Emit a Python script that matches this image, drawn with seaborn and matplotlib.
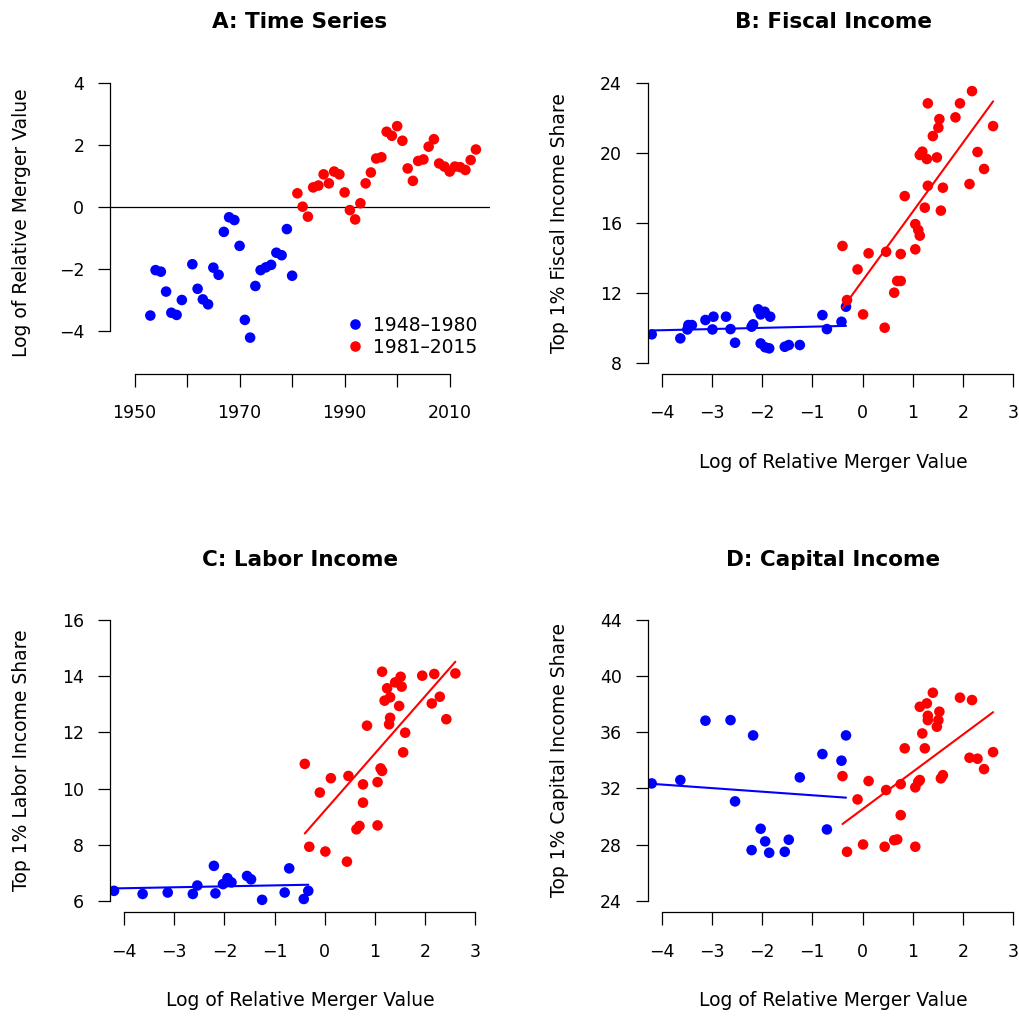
import numpy as np
import pandas as pd
import matplotlib
matplotlib.use("Agg")
import matplotlib.pyplot as plt
from matplotlib.lines import Line2D
import seaborn as sns

# values (no 1960; labor/capital start in 1962, stop in 2014)
years = [1953, 1954, 1955, 1956, 1957, 1958, 1959, 1961, 1962, 1963,
         1964, 1965, 1966, 1967, 1968, 1969, 1970, 1971, 1972, 1973,
         1974, 1975, 1976, 1977, 1978, 1979, 1980, 1981, 1982, 1983,
         1984, 1985, 1986, 1987, 1988, 1989, 1990, 1991, 1992, 1993,
         1994, 1995, 1996, 1997, 1998, 1999, 2000, 2001, 2002, 2003,
         2004, 2005, 2006, 2007, 2008, 2009, 2010, 2011, 2012, 2013,
         2014, 2015]

log_merger = [-3.49, -2.03, -2.08, -2.72, -3.40, -3.47, -2.99, -1.84, -2.63, -2.97,
              -3.13, -1.95, -2.18, -0.80, -0.33, -0.42, -1.25, -3.63, -4.20, -2.54,
              -2.03, -1.94, -1.86, -1.47, -1.55, -0.71, -2.21, 0.44, 0.01, -0.31,
              0.63, 0.69, 1.05, 0.76, 1.14, 1.05, 0.47, -0.10, -0.40, 0.12,
              0.76, 1.11, 1.56, 1.60, 2.42, 2.29, 2.60, 2.13, 1.24, 0.84,
              1.48, 1.53, 1.94, 2.18, 1.40, 1.30, 1.14, 1.30, 1.28, 1.19,
              1.51, 1.85]

fiscal_share = [9.90, 10.76, 11.05, 10.63, 10.15, 10.15, 9.90, 10.63, 9.92, 10.63,
                10.44, 10.91, 10.19, 10.72, 11.20, 10.34, 9.01, 9.39, 9.62, 9.14,
                9.10, 8.88, 8.82, 9.01, 8.91, 9.92, 10.06, 10.00, 10.76, 11.58,
                12.00, 12.67, 15.92, 12.67, 15.26, 14.48, 14.34, 13.33, 14.67, 14.25,
                14.21, 15.58, 16.69, 18.00, 19.07, 20.04, 21.52, 18.21, 16.86, 17.52,
                19.73, 21.92, 22.82, 23.52, 20.95, 18.11, 19.87, 22.82, 19.64, 20.06,
                21.43, 22.02]

nan = np.nan
labor_share = [nan, nan, nan, nan, nan, nan, nan, nan, 6.25, nan,
               6.30, nan, 6.27, 6.30, 6.36, 6.07, 6.04, 6.25, 6.36, 6.55,
               6.60, 6.81, 6.66, 6.77, 6.89, 7.16, 7.25, 7.40, 7.76, 7.93,
               8.55, 8.67, 10.23, 9.50, 10.63, 8.69, 10.45, 9.86, 10.88, 10.37,
               10.15, 10.72, 11.29, 11.99, 12.47, 13.27, 14.10, 13.03, 13.57, 12.24,
               12.94, 13.63, 14.02, 14.08, 13.78, 12.52, 14.16, 13.25, 12.29, 13.13,
               13.98, nan]

capital_share = [nan, nan, nan, nan, nan, nan, nan, nan, 36.87, nan,
                 36.83, nan, 35.78, 34.45, 35.78, 33.98, 32.79, 32.60, 32.36, 31.08,
                 29.13, 28.23, 27.42, 28.35, 27.49, 29.08, 27.61, 27.85, 28.01, 27.49,
                 28.32, 28.37, 27.85, 32.31, 32.60, 32.08, 31.89, 31.22, 32.88, 32.53,
                 30.10, 32.48, 32.72, 32.95, 33.38, 34.12, 34.59, 34.19, 34.86, 34.86,
                 36.40, 37.47, 38.47, 38.30, 38.82, 37.18, 37.82, 36.87, 38.06, 35.92,
                 36.87, nan]

period_labels = ["1948–1980", "1981–2015"]
period_colors = ["blue", "red"]

df = pd.DataFrame({"year": years, "log_merger": log_merger, "fiscal": fiscal_share,
                   "labor": labor_share, "capital": capital_share})
df["period"] = np.where(df["year"] <= 1980, period_labels[0], period_labels[1])
palette = dict(zip(period_labels, period_colors))

sns.set_style("ticks")
plt.rcParams.update({
    "font.family": ["DejaVu Sans"],
    "axes.linewidth": 0.9,
    "xtick.major.width": 0.9,
    "ytick.major.width": 0.9,
    "xtick.major.size": 9,
    "ytick.major.size": 9,
    "xtick.labelsize": 12.5,
    "ytick.labelsize": 12.5,
    "xtick.major.pad": 13,
    "ytick.major.pad": 9.5,
    "text.color": "black",
    "axes.labelcolor": "black",
    "xtick.color": "black",
    "ytick.color": "black",
    "axes.edgecolor": "black",
})

W, H = 1020, 1017
fig = plt.figure(figsize=(W / 100, H / 100), dpi=100)


def add_panel(left, top, width, height):
    ax = fig.add_axes([left / W, 1 - (top + height) / H, width / W, height / H])
    ax.patch.set_alpha(0)
    return ax, width, height


def finish(ax, w, h, title, xlabel, ylabel, xticks, yticks):
    ax.set_title(title, fontsize=15.5, fontweight="bold", pad=31)
    ax.set_xticks(xticks)
    ax.set_yticks(yticks)
    ax.spines["top"].set_visible(False)
    ax.spines["right"].set_visible(False)
    ax.spines["bottom"].set_bounds(xticks[0], xticks[-1])
    ax.spines["left"].set_bounds(yticks[0], yticks[-1])
    ax.set_xlabel(xlabel, fontsize=13.5)
    ax.set_ylabel(ylabel, fontsize=13.5)
    ax.xaxis.set_label_coords(0.5, -79 / h)
    ax.yaxis.set_label_coords(-79 / w, 0.5)
    ax.grid(False)


# A: time series
ax, w, h = add_panel(110, 71.4, 380, 302.3)
ax.axhline(0, color="black", lw=0.9, zorder=1)
sns.scatterplot(data=df, x="year", y="log_merger", hue="period", palette=palette,
                s=58, linewidth=0, legend=False, ax=ax, zorder=3)
ax.set_xlim(1945.32, 2017.68)
ax.set_ylim(-5.36, 4.36)
finish(ax, w, h, "A: Time Series", "", "Log of Relative Merger Value",
       list(range(1950, 2011, 10)), [-4, -2, 0, 2, 4])
ax.set_xticklabels(["1950", "", "1970", "", "1990", "", "2010"])
handles = [Line2D([], [], marker="o", ls="", color=c, markersize=np.sqrt(58),
                  markeredgewidth=0) for c in period_colors]
ax.legend(handles, period_labels, loc="lower right", bbox_to_anchor=(0.968, 0.056),
          frameon=False, fontsize=13.5, handlelength=1.0, handletextpad=0.5,
          labelspacing=0.15, borderpad=0, borderaxespad=0)

# B-D: shares against log merger value, with a fit per period
panels = [
    ("fiscal", (647.7, 71.5, 371.5, 302.4), (-4.28, 3.12), (7.36, 24.64),
     [8, 12, 16, 20, 24], "B: Fiscal Income", "Top 1% Fiscal Income Share"),
    ("labor", (110, 608.8, 380, 303.4), (-4.28, 3.29), (5.6, 16.4),
     [6, 8, 10, 12, 14, 16], "C: Labor Income", "Top 1% Labor Income Share"),
    ("capital", (647.7, 608.8, 371.5, 303.2), (-4.28, 3.12), (23.2, 44.8),
     [24, 28, 32, 36, 40, 44], "D: Capital Income", "Top 1% Capital Income Share"),
]

for col, box, xlim, ylim, yticks, title, ylabel in panels:
    ax, w, h = add_panel(*box)
    sub = df.dropna(subset=[col])
    sns.scatterplot(data=sub, x="log_merger", y=col, hue="period", palette=palette,
                    s=58, linewidth=0, legend=False, ax=ax, zorder=2)
    for label, color in zip(period_labels, period_colors):
        grp = sub[sub["period"] == label]
        sns.regplot(data=grp, x="log_merger", y=col, scatter=False, ci=None,
                    truncate=True, color=color, line_kws={"lw": 1.5, "zorder": 3}, ax=ax)
    ax.set_xlim(*xlim)
    ax.set_ylim(*ylim)
    finish(ax, w, h, title, "Log of Relative Merger Value", ylabel,
           list(range(-4, 4)), yticks)

fig.savefig("out.png", dpi=100)
